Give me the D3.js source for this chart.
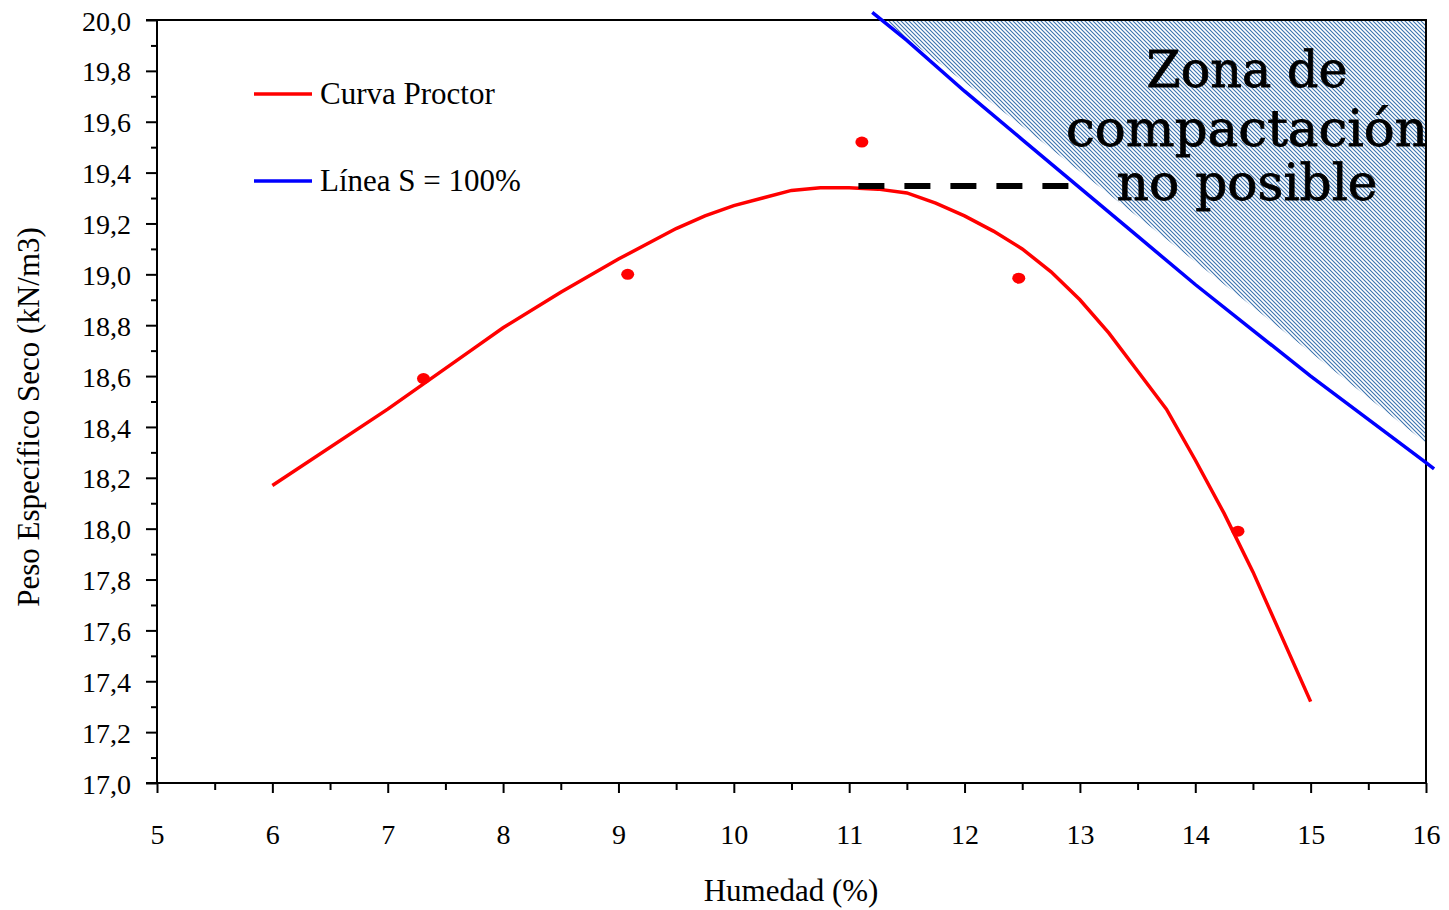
<!DOCTYPE html>
<html>
<head>
<meta charset="utf-8">
<script src="https://cdn.jsdelivr.net/npm/d3@7"></script>
<style>
	body { margin: 0; background: #fff; }
	text { font-family: "Liberation Serif", "Times New Roman", serif; }
</style>
</head>
<body>
<svg width="1449" height="910"></svg>
<script>
// humedad (%) vs peso especifico seco (kN/m3)
var proctorW = [6, 7, 7.75, 8, 8.5, 9, 9.5, 9.75, 10, 10.25, 10.5, 10.75, 11, 11.25, 11.5, 11.75, 12, 12.25, 12.5, 12.75, 13, 13.25, 13.5, 13.75, 14, 14.25, 14.5, 15]
var proctorG = [18.17, 18.47, 18.71, 18.79, 18.93, 19.06, 19.18, 19.23, 19.27, 19.30, 19.33, 19.34, 19.34, 19.335, 19.32, 19.28, 19.23, 19.17, 19.10, 19.01, 18.90, 18.77, 18.62, 18.47, 18.27, 18.06, 17.83, 17.32]

var ensayoW = [7.31, 9.08, 11.11, 12.47, 14.37]
var ensayoG = [18.59, 19.00, 19.52, 18.985, 17.99]

// linea de saturacion S = 100%
var satW = [11.2, 11.5, 12, 12.5, 13, 13.5, 14, 14.5, 15, 15.5, 16, 16.07]
var satG = [20.03, 19.92, 19.72, 19.53, 19.34, 19.15, 18.96, 18.78, 18.60, 18.43, 18.26, 18.235]

// zona rayada (no posible)
var zonaW = [11.29, 12.45, 14.42, 16, 16]
var zonaG = [20, 19.60, 18.90, 18.337, 20]

// humedad optima / densidad maxima
var optW = [11.08, 12.92]
var optG = [19.347, 19.347]

var xTicks = d3.range(5, 16.01, 1)
var yTicks = d3.range(17, 20.01, 0.2)

var svg = d3.select("svg")
const mLeft = 157, mRight = 1426, mTop = 20, mBottom = 783

var x = d3.scaleLinear().domain([5, 16]).range([mLeft, mRight])
var y = d3.scaleLinear().domain([17, 20]).range([mBottom, mTop])

var defs = svg.append("defs")
var pat = defs.append("pattern")
	.attr("id", "hatch")
	.attr("patternUnits", "userSpaceOnUse")
	.attr("width", 4).attr("height", 4)
pat.append("path")
	.attr("d", "M-1,-1 L5,5 M-1,3 L1,5 M3,-1 L5,1")
	.attr("stroke", "#3a72ae")
	.attr("stroke-width", 1.1)

// hatched zone
svg.append("path")
	.datum(d3.zip(zonaW, zonaG))
	.attr("fill", "url(#hatch)")
	.attr("d", function (d) {
		return d3.line().x(p => x(p[0])).y(p => y(p[1]))(d) + "Z"
	})

// text in zone
var zonaLines = [["Zona de", 87, 201], ["compactación", 146, 362], ["no posible", 200, 261]]
svg.append("g").selectAll("text").data(zonaLines).enter()
	.append("text")
	.attr("x", 1247)
	.attr("y", d => d[1])
	.attr("text-anchor", "middle")
	.attr("textLength", d => d[2])
	.attr("lengthAdjust", "spacingAndGlyphs")
	.style("font-family", "'DejaVu Serif', serif")
	.style("font-size", "51px")
	.style("stroke", "#000")
	.style("stroke-width", 0.8)
	.text(d => d[0])

// axes
var yAxis = d3.axisLeft(y).tickValues(yTicks).tickSize(11).tickPadding(15)
	.tickFormat(d => d3.format(".1f")(d).replace(".", ","))
var yMinor = d3.axisLeft(y).tickValues(d3.range(17.1, 20, 0.2)).tickSize(6).tickFormat("")
var xAxis = d3.axisBottom(x).tickValues(xTicks).tickSize(10).tickPadding(31)
var xMinor = d3.axisBottom(x).tickValues(d3.range(5.5, 16, 1)).tickSize(7).tickFormat("")

function styleAxis(g) {
	g.select(".domain").remove()
	g.selectAll("line").attr("stroke", "#000").attr("stroke-width", 2)
	g.selectAll("text").attr("fill", "#000").style("font-size", "28px")
		.style("font-family", "'Liberation Serif', serif")
}

svg.append("g").attr("transform", `translate(${mLeft},0)`).call(yAxis).call(styleAxis)
	.selectAll("text").attr("dy", "0.36em")
svg.append("g").attr("transform", `translate(${mLeft},0)`).call(yMinor).call(styleAxis)
svg.append("g").attr("transform", `translate(0,${mBottom})`).call(xAxis).call(styleAxis)
	.selectAll("text").attr("dy", "0.71em")
svg.append("g").attr("transform", `translate(0,${mBottom})`).call(xMinor).call(styleAxis)

// frame
svg.append("path")
	.attr("d", `M${mLeft - 11},${mTop} H${mRight} V${mBottom} H${mLeft - 11} M${mLeft},${mTop} V${mBottom}`)
	.attr("fill", "none")
	.attr("stroke", "#000")
	.attr("stroke-width", 2)

// S = 100% line
svg.append("path")
	.datum(d3.zip(satW, satG))
	.attr("d", d3.line().x(d => x(d[0])).y(d => y(d[1])))
	.attr("fill", "none")
	.attr("stroke", "#0000ff")
	.attr("stroke-width", 3.5)

// proctor curve
svg.append("path")
	.datum(d3.zip(proctorW, proctorG))
	.attr("d", d3.line().x(d => x(d[0])).y(d => y(d[1])))
	.attr("fill", "none")
	.attr("stroke", "#ff0000")
	.attr("stroke-width", 3.5)

// dashed line
svg.append("path")
	.datum(d3.zip(optW, optG))
	.attr("d", d3.line().x(d => x(d[0])).y(d => y(d[1])))
	.attr("fill", "none")
	.attr("stroke", "#000")
	.attr("stroke-width", 6)
	.attr("stroke-dasharray", "26,20")

// test points
svg.append("g").selectAll("ellipse").data(d3.zip(ensayoW, ensayoG)).enter()
	.append("ellipse")
	.attr("cx", d => x(d[0]))
	.attr("cy", d => y(d[1]))
	.attr("rx", 6.5).attr("ry", 5.5)
	.attr("fill", "#ff0000")

// legend
var legend = [["Curva Proctor", "#ff0000", 94], ["Línea S = 100%", "#0000ff", 181]]
var lg = svg.append("g").selectAll("g").data(legend).enter().append("g")
lg.append("line")
	.attr("x1", 254).attr("x2", 312)
	.attr("y1", d => d[2]).attr("y2", d => d[2])
	.attr("stroke", d => d[1])
	.attr("stroke-width", 3.5)
lg.append("text")
	.attr("x", 320)
	.attr("y", d => d[2] + 10)
	.style("font-size", "31px")
	.text(d => d[0])

// axis titles
svg.append("text")
	.attr("x", 791).attr("y", 901)
	.attr("text-anchor", "middle")
	.style("font-size", "31px")
	.text("Humedad (%)")
svg.append("text")
	.attr("transform", "translate(39,417) rotate(-90)")
	.attr("text-anchor", "middle")
	.style("font-size", "31px")
	.text("Peso Específico Seco (kN/m3)")
</script>
</body>
</html>
